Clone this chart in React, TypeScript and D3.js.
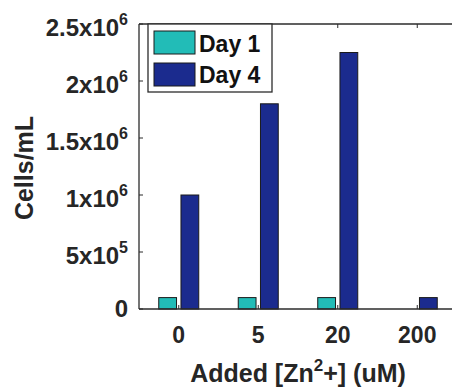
import { useEffect, useRef } from 'react'
import * as d3 from 'd3'

const categories = ['0', '5', '20', '200']
const day1 = [1e5, 1e5, 1e5, 0]
const day4 = [1.0e6, 1.8e6, 2.25e6, 1e5]
const seriesNames = ['Day 1', 'Day 4']
const yTicks = [0, 5e5, 1e6, 1.5e6, 2e6, 2.5e6]
const yTickLabels: [string, string][] = [['0', ''], ['5x10', '5'], ['1x10', '6'], ['1.5x10', '6'], ['2x10', '6'], ['2.5x10', '6']]

const colors = ['#22bcb7', '#1b2b8e']

export default function App() {
  const svgRef = useRef<SVGSVGElement>(null)

  useEffect(() => {
    if (!svgRef.current) return
    const svg = d3.select(svgRef.current)
    svg.selectAll('*').remove()

    const width = 452
    const height = 388
    const margin = { top: 24, left: 139, bottom: 79 }
    const innerWidth = 318
    const innerHeight = height - margin.top - margin.bottom
    const font = '"Liberation Sans", Arial, sans-serif'
    const textColor = '#262626'

    svg.attr('width', width).attr('height', height)
    const g = svg.append('g').attr('transform', `translate(${margin.left},${margin.top})`)

    const x = d3.scaleBand().domain(categories).range([0, innerWidth]).padding(0)
    const xSub = d3.scaleBand().domain(seriesNames).range([x.bandwidth() / 2 - 20, x.bandwidth() / 2 + 20]).paddingInner(0.2)
    const y = d3.scaleLinear().domain([0, 2.5e6]).range([innerHeight, 0])

    // bars
    const series = [day1, day4]
    series.forEach((vals, si) => {
      vals.forEach((v, i) => {
        if (v <= 0) return
        g.append('rect')
          .attr('x', x(categories[i])! + xSub(seriesNames[si])!)
          .attr('y', y(v))
          .attr('width', xSub.bandwidth())
          .attr('height', y(0) - y(v))
          .attr('fill', colors[si])
          .attr('stroke', '#1a1a1a')
          .attr('stroke-width', 1)
      })
    })

    // axes box
    const axisColor = '#2b2b2b'
    g.append('line').attr('x1', 0).attr('x2', innerWidth).attr('y1', 0).attr('y2', 0).attr('stroke', axisColor).attr('stroke-width', 1.3)
    g.append('line').attr('x1', 0).attr('x2', innerWidth).attr('y1', innerHeight).attr('y2', innerHeight).attr('stroke', axisColor).attr('stroke-width', 1.3)
    g.append('line').attr('x1', 0).attr('x2', 0).attr('y1', 0).attr('y2', innerHeight).attr('stroke', axisColor).attr('stroke-width', 1.3)

    // ticks inward
    yTicks.forEach(t => {
      g.append('line').attr('x1', 0).attr('x2', 4).attr('y1', y(t)).attr('y2', y(t)).attr('stroke', axisColor)
    })
    categories.forEach(c => {
      const cx = x(c)! + x.bandwidth() / 2
      g.append('line').attr('x1', cx).attr('x2', cx).attr('y1', 0).attr('y2', 4).attr('stroke', axisColor)
      g.append('line').attr('x1', cx).attr('x2', cx).attr('y1', innerHeight).attr('y2', innerHeight - 4).attr('stroke', axisColor)
    })

    // y tick labels
    yTicks.forEach((t, i) => {
      const [base, sup] = yTickLabels[i]
      const tx = g.append('text')
        .attr('x', -11)
        .attr('y', y(t) + (sup ? 12 : 8))
        .attr('text-anchor', 'end')
        .style('font-family', font)
        .style('font-weight', 'bold')
        .style('font-size', '24px')
        .style('fill', textColor)
      tx.append('tspan').text(base)
      if (sup) tx.append('tspan').attr('dy', -11).style('font-size', '16px').text(sup)
    })

    // x tick labels
    categories.forEach(c => {
      g.append('text')
        .attr('x', x(c)! + x.bandwidth() / 2)
        .attr('y', innerHeight + 34)
        .attr('text-anchor', 'middle')
        .style('font-family', font)
        .style('font-weight', 'bold')
        .style('font-size', '23px')
        .style('fill', textColor)
        .text(c)
    })

    // x title
    const xt = svg.append('text')
      .attr('x', 298)
      .attr('y', 382)
      .attr('text-anchor', 'middle')
      .style('font-family', font)
      .style('font-weight', 'bold')
      .style('font-size', '25px')
      .style('fill', textColor)
    xt.append('tspan').text('Added [Zn')
    xt.append('tspan').attr('dy', -11).style('font-size', '17px').text('2')
    xt.append('tspan').attr('dy', 11).text('+] (uM)')

    // y title
    svg.append('text')
      .attr('transform', 'translate(33,168) rotate(-90)')
      .attr('text-anchor', 'middle')
      .style('font-family', font)
      .style('font-weight', 'bold')
      .style('font-size', '25px')
      .style('fill', textColor)
      .text('Cells/mL')

    // legend
    const lg = svg.append('g').attr('transform', 'translate(148,24)')
    lg.append('rect').attr('x', 0).attr('y', 0).attr('width', 124).attr('height', 68)
      .attr('fill', '#fff').attr('stroke', axisColor).attr('stroke-width', 1.3)
    seriesNames.forEach((name, i) => {
      lg.append('rect')
        .attr('x', 6).attr('y', 7 + i * 32).attr('width', 41).attr('height', 23)
        .attr('fill', colors[i]).attr('stroke', '#1a1a1a').attr('stroke-width', 1)
      lg.append('text')
        .attr('x', 51).attr('y', 28 + i * 31)
        .style('font-family', font)
        .style('font-weight', 'bold')
        .style('font-size', '23px')
        .style('fill', '#111')
        .text(name)
    })
  }, [])

  return <svg ref={svgRef} style={{ position: 'absolute', left: 0, top: 0 }} />
}
